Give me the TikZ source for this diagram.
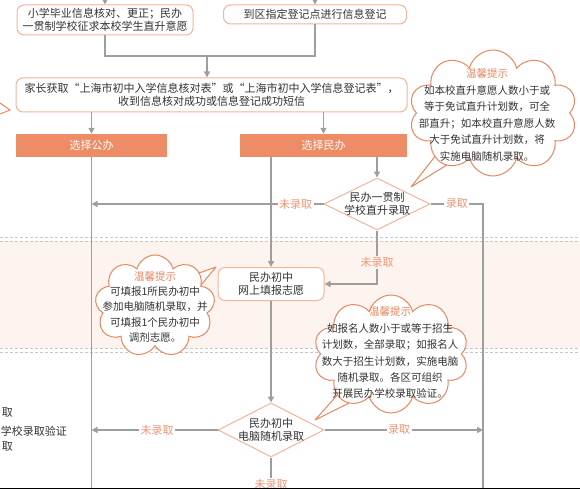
\documentclass[tikz,border=0pt]{standalone}
\usepackage{fontspec}
\setmainfont{Noto Sans CJK SC}
\usepackage{xcolor}
\usetikzlibrary{arrows.meta, positioning, calc, shapes.geometric, shapes.symbols}
\definecolor{edgeorange}{HTML}{F2B49A}
\definecolor{barorange}{HTML}{EF8C68}
\definecolor{cloudorange}{HTML}{E8875F}
\definecolor{tagorange}{HTML}{EC9574}
\definecolor{linegray}{HTML}{9E9E9E}
\definecolor{txtgray}{HTML}{333333}
\definecolor{bandpink}{HTML}{FDF4F0}

\begin{document}
\begin{tikzpicture}[x=1pt, y=-1pt,
    every node/.style={font=\fontsize{11}{13.5}\selectfont, text=txtgray, inner sep=0pt},
    box/.style={draw=edgeorange, line width=1pt, rounded corners=7pt, align=center, fill=white},
    bar/.style={fill=barorange, text=white, minimum height=23pt},
    choice/.style={diamond, draw=edgeorange, line width=1pt, fill=white},
    flow/.style={draw=linegray, line width=1.4pt},
    arr/.style={flow, -{Triangle[length=6pt, width=6pt]}},
    tag/.style={text=tagorange, fill=white, inner sep=1.5pt},
    puff/.style={cloud, cloud puffs=10, cloud ignores aspect, draw=cloudorange, line width=1pt, fill=white},
    tail/.style={draw=cloudorange, line width=1pt, fill=white, line join=round},
    tip/.style={align=center, font=\fontsize{10.5}{16.6}\selectfont},
    bandline/.style={draw=black!22, line width=0.6pt, dash pattern=on 3pt off 2pt}]
    \useasboundingbox (0,0) rectangle (580,489);
    \fill[white] (0,0) rectangle (580,489);
    \fill[bandpink] (0,241) rectangle (580,348);
    \foreach \yy in {237,241,348,352}
        \draw[bandline] (0,\yy) -- (580,\yy);

    \node[box, minimum width=176pt, minimum height=30pt] (b1) at (105,20)
        {小学毕业信息核对、更正；民办\\一贯制学校征求本校学生直升意愿};
    \node[box, minimum width=183pt, minimum height=19pt] (b2) at (315,14.5)
        {到区指定登记点进行信息登记};
    \node[box, minimum width=391pt, minimum height=34pt] (b3) at (211.5,95)
        {家长获取“上海市初中入学信息核对表”或“上海市初中入学信息登记表”，\\收到信息核对成功或信息登记成功短信};
    \node[bar, minimum width=151pt] (gb) at (91.5,145.5) {选择公办};
    \node[bar, minimum width=167pt] (mb) at (323.5,145.5) {选择民办};
    \node[choice, minimum width=106pt, minimum height=52pt] (d1) at (377,204) {};
    \node[align=center] at (d1) {民办一贯制\\学校直升录取};
    \node[box, minimum width=106pt, minimum height=33pt] (wb) at (271,284)
        {民办初中\\网上填报志愿};
    \node[choice, minimum width=106pt, minimum height=54pt] (d2) at (271,430) {};
    \node[align=center] at (d2) {民办初中\\电脑随机录取};

    \coordinate (join) at (207,56);
    \coordinate (rline) at (483,204);
    \coordinate (bot) at (0,489);

    \draw[arr] (b1.north |- 0,0) -- (b1.north);
    \draw[arr] (b2.north |- 0,0) -- (b2.north);
    \draw[flow] (b1.south) |- (b2.south |- join) -- (b2.south);
    \draw[arr] (join) -- (join |- b3.north);
    \draw[arr] (gb.north |- b3.south) -- (gb.north);
    \draw[arr] (mb.north |- b3.south) -- (mb.north);
    \draw[flow] (gb.south) -- (gb.south |- bot);
    \draw[arr] (wb.north |- mb.south) -- (wb.north);
    \draw[arr] (d1.north |- mb.south) -- (d1.north);
    \draw[arr] (d1.west) -- node[tag, pos=0.12] {未录取} (d1.west -| gb.south);
    \draw[flow] (d1.east) -- node[tag] {录取} (rline) -- (rline |- bot);
    \draw[arr] (d1.south) |- node[tag, fill=bandpink, pos=0.3] {未录取} (wb.east);
    \draw[arr] (wb.south) -- (d2.north);
    \draw[arr] (d2.west) -- node[tag, pos=0.48] {未录取} (d2.west -| gb.south);
    \draw[arr] (d2.east) -- node[tag, pos=0.47] {录取} (d2.east -| rline);
    \draw[flow] (d2.south) -- ++(0,20) node[tag, anchor=north] {未录取};

    \draw[tail] (440,150) -- (411,187) -- (455,160);
    \node[puff, minimum width=168pt, minimum height=126pt] (c1) at (493,113) {};
    \node[tip] at (487,115) {{\color{cloudorange}温馨提示}\\如本校直升意愿人数小于或\\等于免试直升计划数，可全\\部直升；如本校直升意愿人数\\大于免试直升计划数，将\\实施电脑随机录取。};

    \draw[tail] (185,278) -- (216,267) -- (195,292);
    \node[puff, cloud puffs=9, minimum width=120pt, minimum height=102pt] (c2) at (155,306) {};
    \node[tip, font=\fontsize{10.5}{15.3}\selectfont] at (155,307) {{\color{cloudorange}温馨提示}\\可填报1所民办初中\\参加电脑随机录取，并\\可填报1个民办初中\\调剂志愿。};

    \draw[tail] (340,392) -- (315,420) -- (355,400);
    \node[puff, minimum width=155pt, minimum height=118pt] (c3) at (391,354) {};
    \node[tip, font=\fontsize{10.5}{16.4}\selectfont] at (390,353) {{\color{cloudorange}温馨提示}\\如报名人数小于或等于招生\\计划数，全部录取；如报名人\\数大于招生计划数，实施电脑\\随机录取。各区可组织\\开展民办学校录取验证。};

    \draw[cloudorange, line width=1pt] (0,103) -- (10,110) -- (0,114);
    \node[anchor=east] at (13,413) {取};
    \node[anchor=east] at (67,431) {学校录取验证};
    \node[anchor=east] at (13,447) {取};
    \fill[black] (0,487.5) rectangle (580,489);
\end{tikzpicture}
\end{document}
